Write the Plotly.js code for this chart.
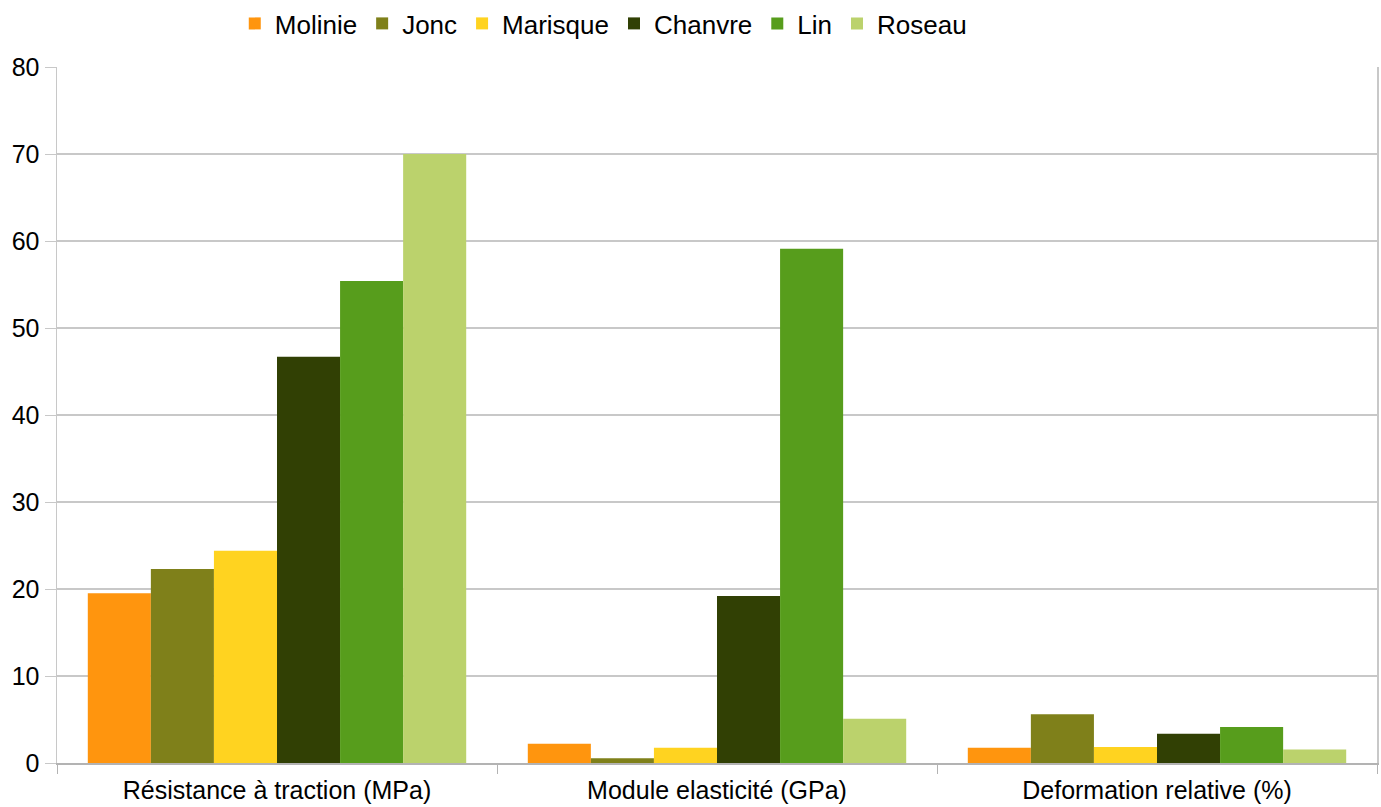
<!DOCTYPE html>
<html><head><meta charset="utf-8">
<script src="https://cdn.plot.ly/plotly-3.0.1.min.js"></script>
<style>html,body{margin:0;padding:0;background:#fff}#c{width:1381px;height:807px}</style>
</head><body><div id="c"></div>
<script>
const categories = ["Résistance à traction (MPa)", "Module elasticité (GPa)", "Deformation relative (%)"];
const seriesNames = ["Molinie", "Jonc", "Marisque", "Chanvre", "Lin", "Roseau"];
const molinie = [19.5, 2.2, 1.75];
const jonc = [22.3, 0.55, 5.6];
const marisque = [24.4, 1.75, 1.85];
const chanvre = [46.7, 19.2, 3.35];
const lin = [55.4, 59.1, 4.15];
const roseau = [70.0, 5.1, 1.55];
const seriesValues = [molinie, jonc, marisque, chanvre, lin, roseau];
const colors = ["#ff950e", "#7f801a", "#ffd320", "#314004", "#579d1c", "#bbd26c"];
const yTicks = [0, 10, 20, 30, 40, 50, 60, 70, 80];

const FONT = "Liberation Sans, Arial, sans-serif";
const traces = seriesNames.map((n, i) => ({
  type: "bar", name: n, x: categories, y: seriesValues[i],
  marker: {color: colors[i], line: {width: 0}}
}));
const layout = {
  width: 1381, height: 807,
  margin: {l: 57, r: 4, t: 67, b: 44},
  paper_bgcolor: "#fff", plot_bgcolor: "#fff",
  barmode: "group", bargap: 0.14, bargroupgap: 0,
  font: {family: FONT, size: 25, color: "#000"},
  showlegend: true,
  legend: {orientation: "h", xref: "container", yref: "container", x: 0.17, y: 1,
           xanchor: "left", yanchor: "top", font: {family: FONT, size: 26},
           itemwidth: 30, tracegroupgap: 0, traceorder: "normal"},
  xaxis: {type: "category", tickson: "boundaries", ticks: "outside", ticklen: 9,
          tickcolor: "#b3b3b3", showline: true, linecolor: "#b3b3b3", linewidth: 2,
          showgrid: false, zeroline: false, ticklabelstandoff: 4,
          tickfont: {family: FONT, size: 25}},
  yaxis: {range: [0, 80], tickvals: yTicks, ticks: "outside", ticklen: 11,
          tickcolor: "#c8c8c8", showline: true, linecolor: "#c8c8c8", linewidth: 1.5,
          mirror: true, gridcolor: "#c8c8c8", gridwidth: 1.5, zeroline: false,
          tickfont: {family: FONT, size: 25}}
};
Plotly.newPlot("c", traces, layout, {displayModeBar: false, staticPlot: true});
</script></body></html>
